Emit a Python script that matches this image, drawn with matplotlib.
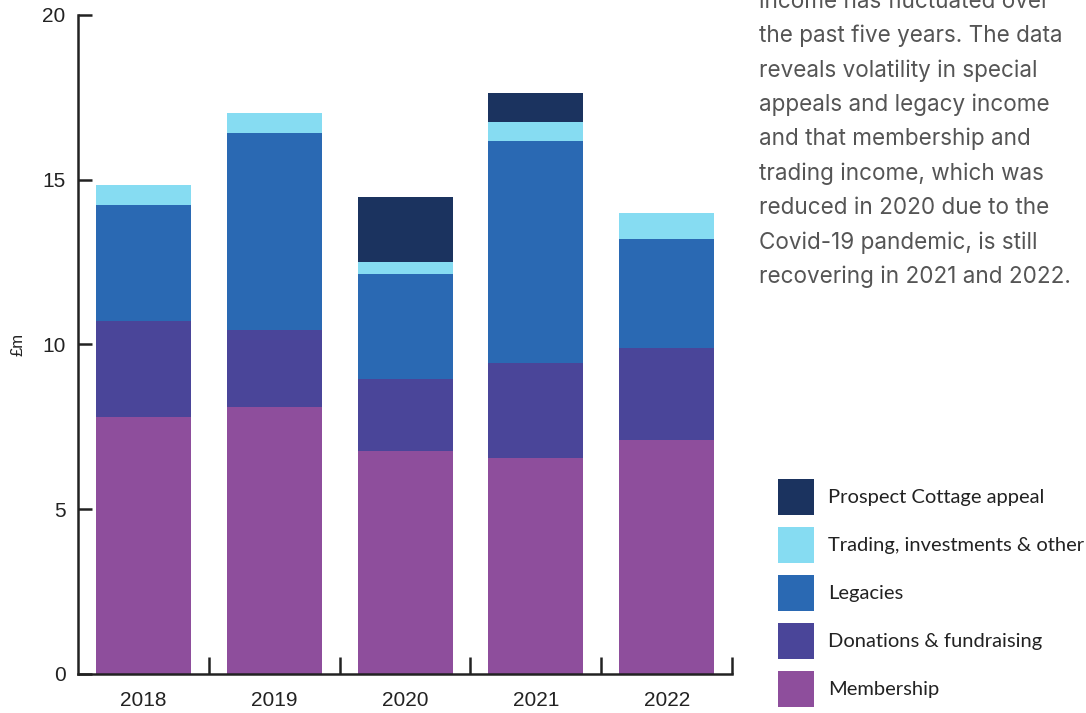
import numpy as np
import matplotlib.pyplot as plt
from matplotlib.ticker import FixedLocator

years = ['2018', '2019', '2020', '2021', '2022']
membership = [7.80, 8.10, 6.77, 6.56, 7.10]
donations = [2.91, 2.35, 2.18, 2.88, 2.80]
legacies = [3.52, 5.98, 3.19, 6.74, 3.30]
trading = [0.61, 0.61, 0.36, 0.57, 0.79]
prospect = [0.0, 0.0, 1.98, 0.88, 0.0]

series = [
    ('Membership', membership, '#8e4e9c'),
    ('Donations & fundraising', donations, '#4a4599'),
    ('Legacies', legacies, '#2a69b3'),
    ('Trading, investments & other', trading, '#86dcf2'),
    ('Prospect Cottage appeal', prospect, '#1b335f'),
]

blurb = [
    'income has fluctuated over',
    'the past five years. The data',
    'reveals volatility in special',
    'appeals and legacy income',
    'and that membership and',
    'trading income, which was',
    'reduced in 2020 due to the',
    'Covid-19 pandemic, is still',
    'recovering in 2021 and 2022.',
]

fig = plt.figure(figsize=(10.86, 7.13), dpi=100)
ax = fig.add_axes([0.0718, 0.0547, 0.6024, 0.9243])

x = np.arange(len(years))
bottom = np.zeros(len(years))
handles = []
for name, vals, col in series:
    b = ax.bar(x, vals, width=0.725, bottom=bottom, color=col, label=name, linewidth=0)
    handles.append(b)
    bottom += np.array(vals)

ax.set_xlim(-0.5, 4.5)
ax.set_ylim(0, 20)
ax.set_yticks([0, 5, 10, 15, 20])
ax.set_xticks(x)
ax.set_xticklabels(years)
ax.xaxis.set_minor_locator(FixedLocator([0.5, 1.5, 2.5, 3.5, 4.5]))

for s in ['top', 'right']:
    ax.spines[s].set_visible(False)
for s in ['left', 'bottom']:
    ax.spines[s].set_linewidth(1.8)
    ax.spines[s].set_color('#222222')

ax.tick_params(axis='y', direction='in', length=10, width=1.8, color='#222222',
               labelsize=15, labelcolor='#222222', pad=9)
ax.tick_params(axis='x', which='major', length=0, labelsize=15, labelcolor='#222222', pad=12)
ax.tick_params(axis='x', which='minor', direction='in', length=12, width=1.8, color='#222222')
for lab in ax.get_xticklabels() + ax.get_yticklabels():
    lab.set_family('Liberation Sans')

ax.set_ylabel('£m', fontsize=12, family='Liberation Sans', color='#222222', labelpad=12)

# side note, one line per row
for i, line in enumerate(blurb):
    yb = 7.9 + i * 34.4
    fig.text(759 / 1086, 1 - yb / 713, line, fontsize=16.2, family='Inter',
             color='#555555', va='baseline', ha='left')

leg = fig.legend(handles[::-1], [s[0] for s in series][::-1],
                 loc='upper left', bbox_to_anchor=(778 / 1086, 1 - 479 / 713),
                 frameon=False, fontsize=14.5, handlelength=1.79, handleheight=2.37,
                 labelspacing=0.6, handletextpad=0.7, borderpad=0, borderaxespad=0)
for t in leg.get_texts():
    t.set_family('Lato')
    t.set_color('#222222')

plt.savefig('out.png', dpi=100)
